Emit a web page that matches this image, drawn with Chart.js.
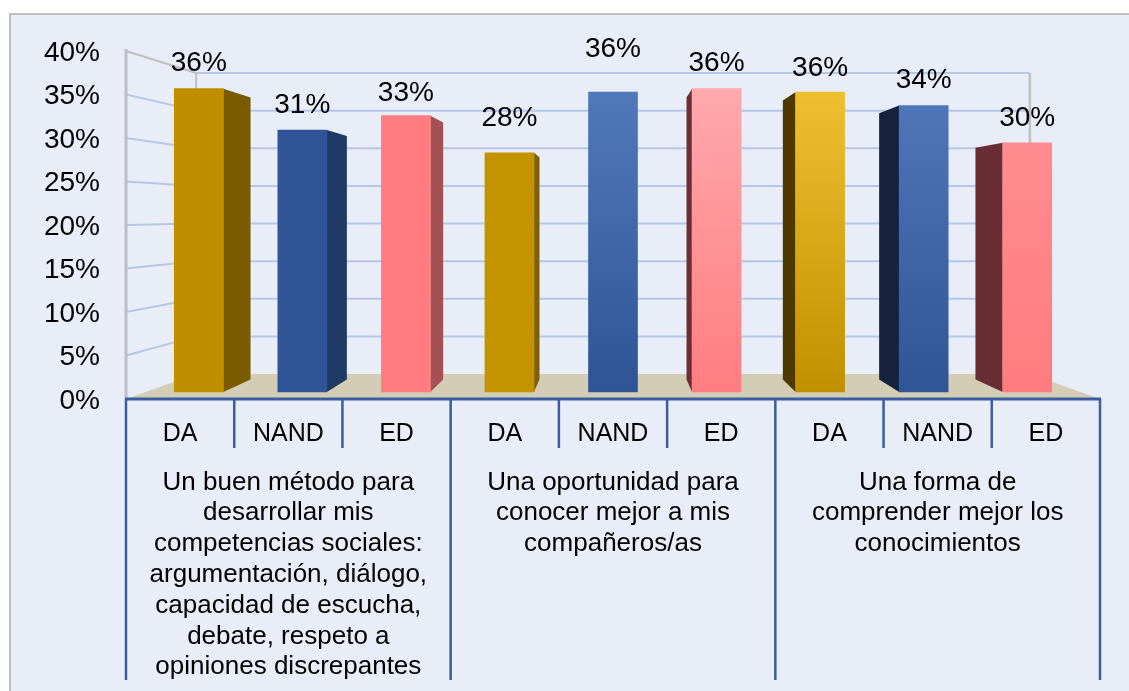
<!DOCTYPE html>
<html>
<head>
<meta charset="utf-8">
<script src="https://cdn.jsdelivr.net/npm/chart.js@4/dist/chart.umd.min.js"></script>
<style>
html,body{margin:0;padding:0;background:#ffffff;}
canvas{display:block;}
</style>
</head>
<body>
<canvas id="c" width="1129" height="691"></canvas>
<script>
// ---------------- DATA ----------------
const categories = ['DA', 'NAND', 'ED', 'DA', 'NAND', 'ED', 'DA', 'NAND', 'ED'];
const groupLabels = [
  ['Un buen método para', 'desarrollar mis', 'competencias sociales:', 'argumentación, diálogo,', 'capacidad de escucha,', 'debate, respeto a', 'opiniones discrepantes'],
  ['Una oportunidad para', 'conocer mejor a mis', 'compañeros/as'],
  ['Una forma de', 'comprender mejor los', 'conocimientos']
];
const values = [0.359, 0.310, 0.327, 0.283, 0.355, 0.359, 0.355, 0.339, 0.295];
const yTicks = [0, 0.05, 0.10, 0.15, 0.20, 0.25, 0.30, 0.35, 0.40];

// ---------------- STYLE ----------------
const barTop    = ['#BF8F00', '#2F5597', '#FF7C80', '#C39300', '#5079BC', '#FFA9AD', '#EEC031', '#4E76B8', '#FF8C90'];
const barBottom = ['#BF8F00', '#2F5597', '#FF7C80', '#C39300', '#2E5496', '#FF7D81', '#C19000', '#2F5597', '#FF7C80'];
const sideColors = ['#7A5B00', '#203A66', '#A45155', '#7F6000', '#203864', '#6B2E34', '#4E3900', '#15213D', '#682E33'];
const labelLift = [25, 25, 22, 35, 43, 25, 24, 25, 24];
const FONT = '"Liberation Sans", Arial, Helvetica, sans-serif';
const PANEL = '#E9EDF7';
const GRID = '#B4C7E7';
const EDGE = '#BFBFBF';
const AXIS = '#3A5DA1';
const FLOOR = '#D4CDB6';

Chart.defaults.font.family = FONT;
Chart.defaults.color = '#000000';

function pct(v) { return Math.round(v * 100) + '%'; }

function geom(chart) {
  const ca = chart.chartArea, ys = chart.scales.y;
  const L = ca.left, R = ca.right;
  const y0 = ys.getPixelForValue(0), yT = ys.getPixelForValue(yTicks[yTicks.length - 1]);
  const vpx = (L + R) / 2, vpy = y0 - 185;
  const kx = 0.856, ky = 0.865;
  return {
    L, R, y0, yT, vpx, vpy,
    bx: x => vpx + kx * (x - vpx),
    by: y => vpy + ky * (y - vpy),
    kb: 0.93
  };
}

function line(ctx, pts, color, w) {
  ctx.beginPath();
  ctx.moveTo(pts[0][0], pts[0][1]);
  for (let i = 1; i < pts.length; i++) ctx.lineTo(pts[i][0], pts[i][1]);
  ctx.strokeStyle = color; ctx.lineWidth = w; ctx.stroke();
}

const box3d = {
  id: 'box3d',
  beforeDraw(chart) {
    const ctx = chart.ctx;
    ctx.save();
    ctx.fillStyle = '#ffffff';
    ctx.fillRect(0, 0, chart.width, chart.height);
    ctx.fillStyle = PANEL;
    ctx.fillRect(10, 14, chart.width, chart.height);
    line(ctx, [[10, chart.height], [10, 14], [chart.width, 14]], EDGE, 2);
    ctx.restore();
  },
  beforeDatasetsDraw(chart) {
    const ctx = chart.ctx, g = geom(chart), ys = chart.scales.y;
    ctx.save();
    // floor
    ctx.beginPath();
    ctx.moveTo(g.L, g.y0);
    ctx.lineTo(g.bx(g.L), g.by(g.y0));
    ctx.lineTo(g.bx(g.R), g.by(g.y0));
    ctx.lineTo(g.R, g.y0);
    ctx.closePath();
    ctx.fillStyle = FLOOR; ctx.fill();
    // gridlines: side wall + back wall
    yTicks.forEach((v, i) => {
      if (v === 0) return;
      const yf = ys.getPixelForValue(v);
      const yb = g.by(yf);
      const last = i === yTicks.length - 1;
      line(ctx, [[g.L, yf], [g.bx(g.L), yb]], last ? EDGE : GRID, 2);
      line(ctx, [[g.bx(g.L), yb], [g.bx(g.R), yb]], GRID, 2);
    });
    // edges
    line(ctx, [[g.bx(g.L), g.by(g.yT)], [g.bx(g.L), g.by(g.y0)]], EDGE, 2);
    line(ctx, [[g.bx(g.R), g.by(g.yT)], [g.bx(g.R), g.by(g.y0)]], EDGE, 2.5);
    line(ctx, [[g.L, g.yT - 2], [g.L, g.y0]], EDGE, 3);
    // axis line
    line(ctx, [[g.L - 1, g.y0], [g.R + 1, g.y0]], AXIS, 3);
    // bar side faces
    const meta = chart.getDatasetMeta(0);
    meta.data.forEach((el, i) => {
      const p = el.getProps(['x', 'y', 'base', 'width'], true);
      const l = p.x - p.width / 2, r = p.x + p.width / 2;
      const bX = x => g.vpx + g.kb * (x - g.vpx);
      const bY = y => g.vpy + g.kb * (y - g.vpy);
      let ex = null;
      if (r < g.vpx - 1) ex = r; else if (l > g.vpx + 1) ex = l;
      if (ex === null) return;
      ctx.beginPath();
      ctx.moveTo(ex, p.y);
      ctx.lineTo(bX(ex), bY(p.y));
      ctx.lineTo(bX(ex), bY(p.base));
      ctx.lineTo(ex, p.base);
      ctx.closePath();
      ctx.fillStyle = sideColors[i];
      ctx.fill();
    });
    ctx.restore();
  },
  afterDatasetsDraw(chart) {
    const ctx = chart.ctx;
    const meta = chart.getDatasetMeta(0);
    ctx.save();
    ctx.font = '28px ' + FONT;
    ctx.fillStyle = '#000000';
    ctx.textAlign = 'center';
    ctx.textBaseline = 'middle';
    meta.data.forEach((el, i) => {
      const p = el.getProps(['x', 'y'], true);
      ctx.fillText(pct(values[i]), p.x, p.y - labelLift[i]);
    });
    ctx.restore();
  },
  afterDraw(chart) {
    const ctx = chart.ctx, g = geom(chart), xs = chart.scales.x;
    const n = categories.length;
    const step = (xs.right - xs.left) / n;
    ctx.save();
    for (let i = 0; i <= n; i++) {
      const x = xs.getPixelForTick(Math.min(i, n - 1)) + (i === n ? step / 2 : -step / 2);
      const len = (i % 3 === 0) ? 281 : 49;
      line(ctx, [[x, g.y0], [x, g.y0 + len]], AXIS, 2.5);
    }
    ctx.restore();
  }
};

new Chart(document.getElementById('c'), {
  type: 'bar',
  data: {
    datasets: [{
      data: values.map((v, i) => ({ x: i, y: v })),
      xAxisID: 'xb',
      yAxisID: 'yb',
      barThickness: 49,
      borderWidth: 0,
      backgroundColor: (ctx) => {
        const i = ctx.dataIndex;
        const chart = ctx.chart;
        if (ctx.type !== 'data' || !chart.chartArea || !chart.scales.yb) return barBottom[i];
        const yb = chart.scales.yb;
        const top = yb.getPixelForValue(values[i]), base = yb.getPixelForValue(0);
        if (!isFinite(top) || !isFinite(base) || top === base) return barBottom[i];
        const gr = chart.ctx.createLinearGradient(0, top, 0, base);
        gr.addColorStop(0, barTop[i]);
        gr.addColorStop(1, barBottom[i]);
        return gr;
      }
    }]
  },
  options: {
    responsive: false,
    devicePixelRatio: 1,
    animation: false,
    layout: { padding: { top: 51, right: 29, bottom: 0, left: 0 } },
    plugins: { legend: { display: false }, tooltip: { enabled: false } },
    scales: {
      y: {
        type: 'linear', position: 'left', min: 0, max: 0.40,
        afterBuildTicks: s => { s.ticks = yTicks.map(v => ({ value: v })); },
        afterFit: s => { s.width = 126; },
        grid: { display: false, drawTicks: false },
        border: { display: false },
        ticks: { font: { size: 28 }, padding: 26, labelOffset: 2, color: '#000', callback: v => pct(v) }
      },
      yb: {
        type: 'linear', display: false, min: -0.008284, max: 0.40355,
        grid: { display: false }
      },
      xb: {
        type: 'linear', display: false, min: -0.7026, max: 8.7026, offset: false,
        grid: { display: false }
      },
      x: {
        type: 'category', position: 'bottom', labels: categories, offset: true,
        afterFit: s => { s.height = 50; },
        grid: { display: false, drawTicks: false },
        border: { display: false },
        ticks: { font: { size: 25, lineHeight: 1.2 }, padding: 20, color: '#000', autoSkip: false, maxRotation: 0, minRotation: 0 }
      },
      xg: {
        type: 'category', position: 'bottom', labels: groupLabels, offset: true,
        afterFit: s => { s.height = 242; },
        grid: { display: false, drawTicks: false },
        border: { display: false },
        ticks: { font: { size: 26, lineHeight: 1.185 }, padding: 18, color: '#000', autoSkip: false, maxRotation: 0, minRotation: 0 }
      }
    }
  },
  plugins: [box3d]
});
</script>
</body>
</html>
